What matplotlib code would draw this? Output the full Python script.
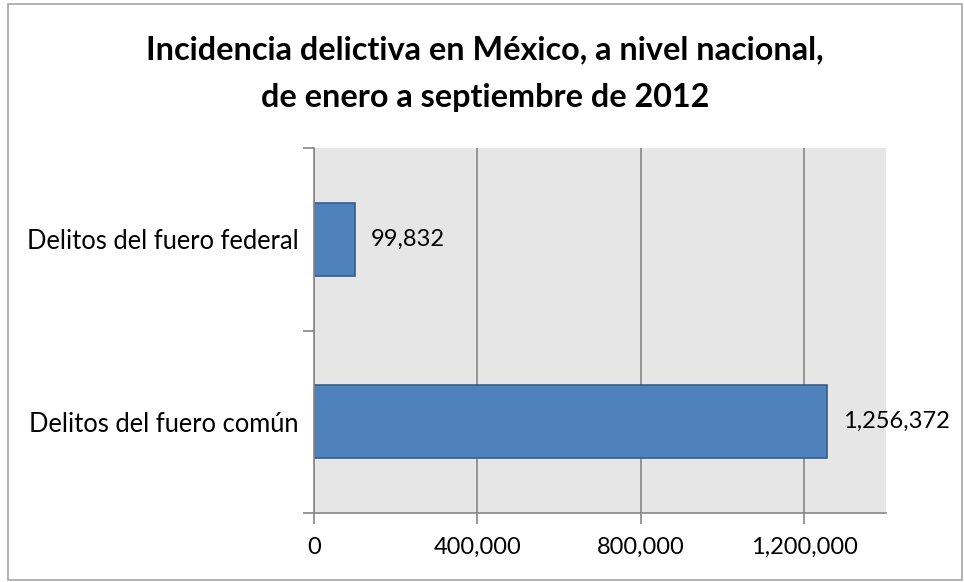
import matplotlib.pyplot as plt
from matplotlib.patches import Rectangle
from matplotlib.ticker import FuncFormatter, MultipleLocator, FixedLocator

categories = ["Delitos del fuero común", "Delitos del fuero federal"]
values = [1256372, 99832]
title_lines = ["Incidencia delictiva en México, a nivel nacional,",
               "de enero a septiembre de 2012"]

plt.rcParams["font.family"] = ["Lato", "DejaVu Sans"]

fig = plt.figure(figsize=(9.64, 5.82), dpi=100)
W, H = 964, 582
ax = fig.add_axes([314 / W, 1 - 513 / H, (886 - 314) / W, (513 - 148) / H])

# outer chart border
fig.patches.append(Rectangle((8 / W, 2 / H), (962 - 8) / W, (578 - 2) / H,
                             transform=fig.transFigure, fill=False,
                             edgecolor="#a6a6a6", linewidth=1.2))

ax.set_facecolor("#e6e6e6")
ypos = list(range(len(categories)))
ax.barh(ypos, values, height=0.4, color="#4f81bd", edgecolor="#385d8a", linewidth=1.2, zorder=3)

for y, v in zip(ypos, values):
    ax.text(v + 16 * 1400000 / 572, y, f"{v:,}", va="center", ha="left", fontsize=17, color="black")

ax.set_xlim(0, 1400000)
ax.set_ylim(-0.5, 1.5)
ax.xaxis.set_major_locator(MultipleLocator(400000))
ax.xaxis.set_major_formatter(FuncFormatter(lambda x, p: f"{int(x):,}"))
ax.grid(axis="x", color="#868686", linewidth=1.2, zorder=1)

ax.yaxis.set_major_locator(FixedLocator([-0.5, 0.5, 1.5]))
ax.yaxis.set_major_formatter(FuncFormatter(lambda y, p: ""))
ax.yaxis.set_minor_locator(FixedLocator(ypos))
ax.set_yticklabels(categories, minor=True)
ax.tick_params(axis="y", which="minor", length=0, pad=11, labelsize=18.4)
ax.tick_params(axis="y", which="major", length=8, width=1.2, color="#868686", direction="out")
ax.tick_params(axis="x", length=8, width=1.2, color="#868686", direction="out", pad=9, labelsize=17)

for s in ["top", "right"]:
    ax.spines[s].set_visible(False)
for s in ["left", "bottom"]:
    ax.spines[s].set_color("#868686")
    ax.spines[s].set_linewidth(1.2)
    ax.spines[s].set_zorder(4)

for line, ty in zip(title_lines, [50, 97]):
    fig.text(0.5 * (8 + 962) / W, 1 - ty / H, line, ha="center", va="center",
             fontsize=23.3, fontweight="bold")

fig.savefig("out.png", dpi=100)
